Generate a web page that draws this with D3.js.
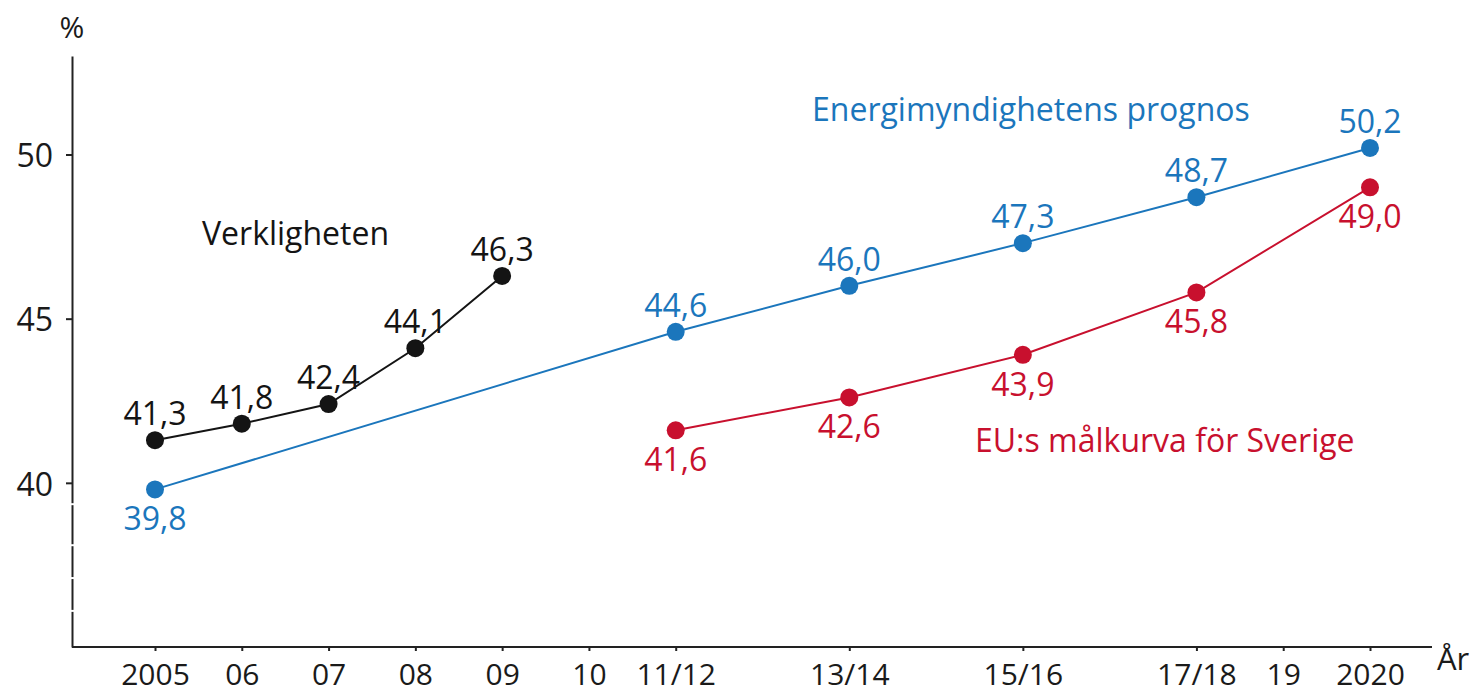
<!DOCTYPE html>
<html>
<head>
<meta charset="utf-8">
<script src="https://cdn.jsdelivr.net/npm/d3@7"></script>
<style>
	body { margin: 0; background: #fff; }
	text { font-family: "Open Sans", sans-serif; }
</style>
</head>
<body>
<script>

let width = 1474;
let height = 695;

let margins = {
	top: 56,
	right: 42,
	bottom: 48,
	left: 72
};

// periods on the x axis, and their order on it (double years share one slot)
let periods = ["2005", "06", "07", "08", "09", "10", "11/12", "13/14", "15/16", "17/18", "19", "2020"];
let periodOrder = [0, 1, 2, 3, 4, 5, 6, 8, 10, 12, 13, 14];

let yTicks = [40, 45, 50];

// Verkligheten
let actualPeriods = ["2005", "06", "07", "08", "09"];
let actualValues = [41.3, 41.8, 42.4, 44.1, 46.3];

// Energimyndighetens prognos
let forecastPeriods = ["2005", "11/12", "13/14", "15/16", "17/18", "2020"];
let forecastValues = [39.8, 44.6, 46.0, 47.3, 48.7, 50.2];

// EU:s målkurva för Sverige
let targetPeriods = ["11/12", "13/14", "15/16", "17/18", "2020"];
let targetValues = [41.6, 42.6, 43.9, 45.8, 49.0];

let slotOf = p => periodOrder[periods.indexOf(p)];

let xScale = d3.scaleLinear()
	.domain([0, 14])
	.range([155, 1370]);

let yScale = d3.scaleLinear()
	.domain([35, 53])
	.range([height - margins.bottom, margins.top]);

let fmt = d => d3.format(".1f")(d).replace(".", ",");

let svg = d3.select("body")
	.append("svg")
		.attr("width", width)
		.attr("height", height);

// x axis
let xAxis = d3.axisBottom(xScale)
	.tickValues(periodOrder)
	.tickFormat((d, i) => periods[i])
	.tickSize(4)
	.tickPadding(13);

let gx = svg.append("g")
	.attr("class", "x axis")
	.attr("transform", "translate(0," + (height - margins.bottom) + ")")
	.call(xAxis);
gx.select(".domain").remove();
gx.selectAll("line").attr("stroke", "#222").attr("stroke-width", 2);
gx.selectAll("text").style("font-size", "30px").attr("fill", "#1a1a1a");

svg.append("line")
	.attr("x1", margins.left)
	.attr("x2", 1432)
	.attr("y1", height - margins.bottom)
	.attr("y2", height - margins.bottom)
	.attr("stroke", "#222")
	.attr("stroke-width", 2);

// y axis
let yAxis = d3.axisLeft(yScale)
	.tickValues(yTicks)
	.tickSize(6)
	.tickSizeOuter(0)
	.tickPadding(13);

let gy = svg.append("g")
	.attr("class", "y axis")
	.attr("transform", "translate(" + margins.left + ",0)")
	.call(yAxis);
gy.select(".domain").attr("stroke", "#222").attr("stroke-width", 2);
gy.selectAll("line").attr("stroke", "#222").attr("stroke-width", 2);
gy.selectAll("text").style("font-size", "32px").attr("fill", "#1a1a1a").attr("dy", "0.38em");

// small breaks in the lower part of the y axis
[39.35, 38.1, 37.1, 36.1].forEach(v => {
	svg.append("rect")
		.attr("x", margins.left - 2)
		.attr("y", yScale(v) - 1)
		.attr("width", 4)
		.attr("height", 2)
		.attr("fill", "#fff");
});

// axis titles
svg.append("text")
	.attr("x", margins.left)
	.attr("y", 38)
	.attr("text-anchor", "middle")
	.style("font-size", "30px")
	.attr("fill", "#1a1a1a")
	.text("%");

svg.append("text")
	.attr("x", 1437)
	.attr("y", 670)
	.style("font-size", "31px")
	.attr("fill", "#1a1a1a")
	.text("År");

let valueline = d3.line()
	.x(d => xScale(d.slot))
	.y(d => yScale(d.value));

function drawSeries(periodList, values, color, labelSide) {
	let data = periodList.map((p, i) => ({ slot: slotOf(p), value: values[i] }));

	svg.append("path")
		.data([data])
		.attr("d", valueline)
		.style("fill", "none")
		.style("stroke", color)
		.style("stroke-width", "2px");

	svg.selectAll(null)
		.data(data)
		.enter()
		.append("circle")
			.attr("cx", d => xScale(d.slot))
			.attr("cy", d => yScale(d.value))
			.attr("r", 9)
			.attr("fill", color);

	svg.selectAll(null)
		.data(data)
		.enter()
		.append("text")
			.attr("x", d => xScale(d.slot))
			.attr("y", (d, i) => yScale(d.value) + (labelSide(i) === "above" ? -15 : 41))
			.attr("text-anchor", "middle")
			.style("font-size", "32px")
			.attr("fill", color)
			.text(d => fmt(d.value));
}

let black = "#141414";
let blue = "#1b76bc";
let red = "#c8102e";

drawSeries(forecastPeriods, forecastValues, blue, i => i === 0 ? "below" : "above");
drawSeries(targetPeriods, targetValues, red, () => "below");
drawSeries(actualPeriods, actualValues, black, () => "above");

// series names
svg.append("text")
	.attr("x", 202)
	.attr("y", 245)
	.style("font-size", "32px")
	.attr("fill", black)
	.text("Verkligheten");

svg.append("text")
	.attr("x", 812)
	.attr("y", 121)
	.style("font-size", "32px")
	.attr("fill", blue)
	.text("Energimyndighetens prognos");

svg.append("text")
	.attr("x", 975)
	.attr("y", 452)
	.style("font-size", "32px")
	.attr("fill", red)
	.text("EU:s målkurva för Sverige");

</script>
</body>
</html>
